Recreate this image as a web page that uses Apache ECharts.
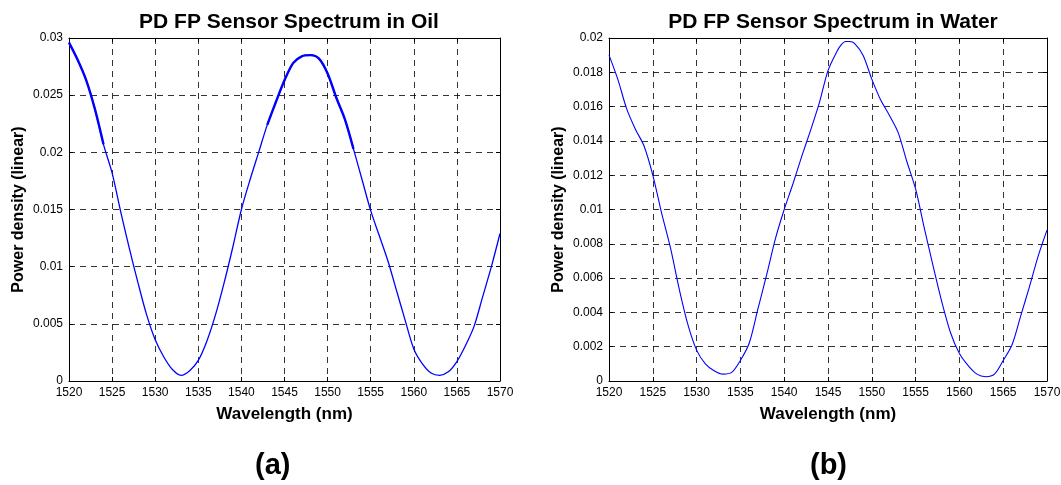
<!DOCTYPE html>
<html><head><meta charset="utf-8">
<script src="https://cdn.jsdelivr.net/npm/echarts@6/dist/echarts.min.js"></script>
<style>html,body{margin:0;padding:0;background:#fff}#c{width:1061px;height:485px}</style>
</head><body><div id="c"></div>
<script>
const oilWl = [1520,1521,1522,1523,1524,1525,1526,1527,1528,1529,1530,1531,1532,1533,1534,1535,1536,1537,1538,1539,1540,1541,1542,1543,1544,1545,1546,1547,1548,1549,1550,1551,1552,1553,1554,1555,1556,1557,1558,1559,1560,1561,1562,1563,1564,1565,1566,1567,1568,1569,1570];
const oilPd = [0.0296,0.0281,0.0263,0.0238,0.0207,0.0182,0.0148,0.0116,0.0086,0.0058,0.0036,0.0021,0.0010,0.0005,0.0009,0.0018,0.0035,0.0058,0.0086,0.0117,0.0150,0.0176,0.0200,0.0224,0.0244,0.0263,0.0278,0.0284,0.0285,0.0282,0.0269,0.0248,0.0229,0.0203,0.0176,0.0149,0.0127,0.0105,0.0079,0.0053,0.0028,0.0015,0.0007,0.0005,0.0008,0.0017,0.0031,0.0048,0.0074,0.0100,0.0129];
const waterWl = [1520,1521,1522,1523,1524,1525,1526,1527,1528,1529,1530,1531,1532,1533,1534,1535,1536,1537,1538,1539,1540,1541,1542,1543,1544,1545,1546,1546.5,1547,1547.5,1548,1549,1550,1551,1552,1553,1554,1555,1556,1557,1558,1559,1560,1561,1562,1563,1564,1565,1566,1567,1568,1569,1570];
const waterPd = [0.0190,0.0176,0.0159,0.0147,0.0137,0.0120,0.0098,0.0078,0.0054,0.0033,0.0018,0.0010,0.0006,0.0004,0.0005,0.0012,0.0022,0.0042,0.0062,0.0083,0.0100,0.0115,0.0131,0.0146,0.0162,0.0181,0.0192,0.0196,0.0198,0.0198,0.0197,0.0190,0.0176,0.0164,0.0155,0.0145,0.0128,0.0112,0.0089,0.0067,0.0046,0.0028,0.0016,0.0009,0.0004,0.00025,0.0004,0.0012,0.0021,0.0038,0.0055,0.0073,0.0088];
const xTicks = [1520,1525,1530,1535,1540,1545,1550,1555,1560,1565,1570];
const oilNoisy = [[1520,1524],[1543,1553]];

const FONT = "'Liberation Sans', Arial, sans-serif";
const pair = (xs, ys) => xs.map((x,i)=>[x, ys[i]]);
const noisy = (xs, ys, ranges) => xs.map((x,i)=> ranges.some(r=>x>=r[0]&&x<=r[1]) ? [x, ys[i]] : [x, null]);

function axesFor(gi, ymax, yint, yname){
  const base = {gridIndex: gi};
  const xb = Object.assign({}, base, {type:'value', min:xTicks[0], max:xTicks[xTicks.length-1], interval:xTicks[1]-xTicks[0], position:'bottom',
    axisLine:{show:true, onZero:false, lineStyle:{color:'#000', width:1}},
    axisTick:{inside:true, length:4, lineStyle:{color:'#000'}},
    axisLabel:{color:'#000', fontSize:12, fontFamily:FONT, margin:6, formatter: v => String(v)},
    splitLine:{show:true, lineStyle:{color:'#000', type:[6,5], width:0.8}},
    name:'Wavelength (nm)', nameLocation:'middle', nameGap:25,
    nameTextStyle:{fontSize:17, fontWeight:'bold', color:'#000', fontFamily:FONT}});
  const xt = Object.assign({}, base, {type:'value', min:xTicks[0], max:xTicks[xTicks.length-1], interval:xTicks[1]-xTicks[0], position:'top',
    axisLine:{show:true, onZero:false, lineStyle:{color:'#000', width:1}},
    axisTick:{inside:true, length:4, lineStyle:{color:'#000'}},
    axisLabel:{show:false}, splitLine:{show:false}});
  const yl = Object.assign({}, base, {type:'value', min:0, max:ymax, interval:yint, position:'left',
    axisLine:{show:true, onZero:false, lineStyle:{color:'#000', width:1}},
    axisTick:{show:true, inside:true, length:4, lineStyle:{color:'#000'}},
    axisLabel:{color:'#000', fontSize:12, fontFamily:FONT, margin:6,
      formatter: v => v===0 ? '0' : String(parseFloat(v.toFixed(4)))},
    splitLine:{show:true, lineStyle:{color:'#000', type:[6,5], width:0.8}},
    name:yname, nameLocation:'middle', nameGap:42,
    nameTextStyle:{fontSize:16, fontWeight:'bold', color:'#000', fontFamily:FONT}});
  const yr = Object.assign({}, base, {type:'value', min:0, max:ymax, interval:yint, position:'right',
    axisLine:{show:true, onZero:false, lineStyle:{color:'#000', width:1}},
    axisTick:{show:true, inside:true, length:4, lineStyle:{color:'#000'}},
    axisLabel:{show:false}, splitLine:{show:false}});
  return {x:[xb, xt], y:[yl, yr]};
}
const a0 = axesFor(0, 0.03, 0.005, 'Power density (linear)');
const a1 = axesFor(1, 0.02, 0.002, 'Power density (linear)');

const chart = echarts.init(document.getElementById('c'), null, {renderer:'canvas'});
chart.setOption({
  animation:false,
  backgroundColor:'#fff',
  title:[
    {text:'PD FP Sensor Spectrum in Oil', left:284, top:7, textAlign:'center',
     textStyle:{fontSize:21, fontWeight:'bold', color:'#000', fontFamily:FONT}},
    {text:'PD FP Sensor Spectrum in Water', left:828, top:7, textAlign:'center',
     textStyle:{fontSize:21, fontWeight:'bold', color:'#000', fontFamily:FONT}}
  ],
  grid:[
    {left:69, top:38, width:431, height:343, outerBoundsMode:'none', containLabel:false},
    {left:609, top:38, width:438, height:343, outerBoundsMode:'none', containLabel:false}
  ],
  xAxis:[a0.x[0], a0.x[1], a1.x[0], a1.x[1]],
  yAxis:[a0.y[0], a0.y[1], a1.y[0], a1.y[1]],
  series:[
    {type:'line', xAxisIndex:0, yAxisIndex:0, data:pair(oilWl, oilPd), showSymbol:false, smooth:0.3,
     lineStyle:{color:'#0000ff', width:1.3}},
    {type:'line', xAxisIndex:0, yAxisIndex:0, data:noisy(oilWl, oilPd, oilNoisy), showSymbol:false, smooth:0.3, connectNulls:false,
     lineStyle:{color:'#0000ff', width:2.4}},
    {type:'line', xAxisIndex:2, yAxisIndex:2, data:pair(waterWl, waterPd), showSymbol:false, smooth:0.3,
     lineStyle:{color:'#0000ff', width:1.1}}
  ],
  graphic:[
    {type:'text', left:255, top:451, style:{text:'(a)', font:"bold 29px 'Liberation Sans', Arial", fill:'#000'}},
    {type:'text', left:810, top:451, style:{text:'(b)', font:"bold 29px 'Liberation Sans', Arial", fill:'#000'}}
  ]
});
</script></body></html>
